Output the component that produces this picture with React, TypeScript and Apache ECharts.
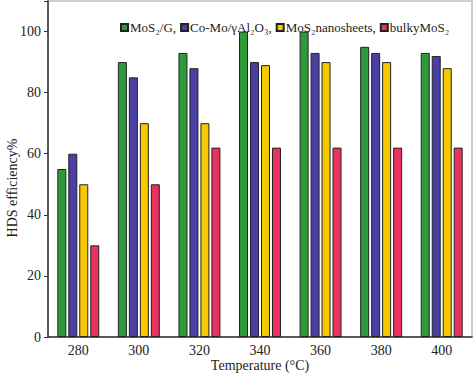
import React, { useEffect, useRef } from "react";
import * as echarts from "echarts";

const categories = ["280", "300", "320", "340", "360", "380", "400"];
const seriesNames = ["MoS₂/G,", "Co-Mo/γAl₂O₃,", "MoS₂nanosheets,", "bulkyMoS₂"];
const mos2G = [55, 90, 93, 100, 100, 95, 93];
const coMo = [60, 85, 88, 90, 93, 93, 92];
const nanosheets = [50, 70, 70, 89, 90, 90, 88];
const bulky = [30, 50, 62, 62, 62, 62, 62];
const yTicks = [0, 20, 40, 60, 80, 100];
const colors = ["#2f9a3a", "#4b3fa6", "#f6c800", "#e8335e"];

const FONT = "'Liberation Serif', 'Times New Roman', serif";

export default function App() {
  const ref = useRef<HTMLDivElement>(null);
  useEffect(() => {
    if (!ref.current) return;
    const chart = echarts.init(ref.current, undefined, { renderer: "svg" });
    const data = [mos2G, coMo, nanosheets, bulky];
    chart.setOption({
      animation: false,
      backgroundColor: "#ffffff",
      textStyle: { fontFamily: FONT, color: "#222" },
      legend: {
        data: seriesNames,
        left: 120,
        top: 21,
        padding: 0,
        width: 354,
        itemWidth: 7,
        itemHeight: 7,
        itemGap: 4,
        icon: "rect",
        textStyle: { fontFamily: FONT, fontSize: 13, color: "#222", padding: [0, 0, 0, -3] },
      },
      grid: {
        left: 48,
        right: 2,
        top: 1,
        bottom: 36,
        outerBoundsMode: "none",
        containLabel: false,
        show: true,
        borderColor: "#cfcfcf",
        borderWidth: 2,
      },
      xAxis: {
        type: "category",
        data: categories,
        name: "Temperature (°C)",
        nameLocation: "middle",
        nameGap: 21,
        nameMoveOverlap: false,
        nameTextStyle: { fontFamily: FONT, fontSize: 14, color: "#222" },
        axisLine: { lineStyle: { color: "#333", width: 1.5 } },
        axisTick: { show: false },
        axisLabel: { fontFamily: FONT, fontSize: 14, color: "#222", margin: 6 },
      },
      yAxis: {
        type: "value",
        min: 0,
        max: 110,
        interval: 20,
        name: "HDS efficiency%",
        nameLocation: "middle",
        nameGap: 29,
        nameMoveOverlap: false,
        nameRotate: 90,
        nameTextStyle: { fontFamily: FONT, fontSize: 14, color: "#222", padding: [0, 38, 0, 0] },
        axisLine: { show: true, lineStyle: { color: "#333", width: 1.5 } },
        axisTick: { show: true, inside: false, length: 4, lineStyle: { color: "#333" } },
        splitLine: { show: false },
        axisLabel: {
          fontFamily: FONT,
          fontSize: 14,
          color: "#222",
          margin: 7,
          formatter: (v: number) => (yTicks.includes(v) ? String(v) : ""),
        },
      },
      series: seriesNames.map((name, i) => ({
        name,
        type: "bar",
        data: data[i],
        barWidth: 9,
        barGap: "22%",
        itemStyle: { color: colors[i], borderColor: "#222", borderWidth: 1 },
      })),
    });
    return () => chart.dispose();
  }, []);
  return (
    <div
      ref={ref}
      style={{ position: "absolute", left: 0, top: 0, width: 474, height: 373 }}
    />
  );
}
